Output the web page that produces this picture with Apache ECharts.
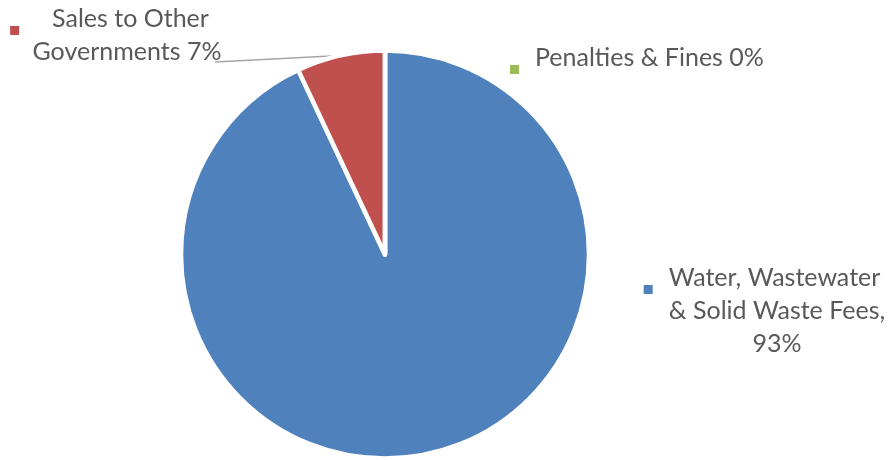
<!DOCTYPE html>
<html>
<head>
<meta charset="utf-8">
<script src="https://cdn.jsdelivr.net/npm/echarts@6/dist/echarts.min.js"></script>
<style>
  html, body { margin: 0; padding: 0; background: #fff; }
  #chart { width: 889px; height: 460px; }
</style>
</head>
<body>
<div id="chart"></div>
<script>
// Revenue sources, share of total (%)
const categories = ['Water, Wastewater & Solid Waste Fees', 'Sales to Other Governments', 'Penalties & Fines'];
const shares = [93, 7, 0];
const colors = ['#4F81BD', '#C0504D', '#9BBB59'];

// Label templates: {m|} is the colour swatch, {v} the share
const labelTemplates = [
  '{m|}{g|}Water, Wastewater{t|}\n& Solid Waste Fees,\n{v}%',
  '{m|}{G|}Sales to Other{T|}\nGovernments {v}%',
  '{m|}{g|}Penalties & Fines {v}%'
];

// Where each label block sits: [x, y, align]
const labelPlacement = [
  [777, 261, 'center'],
  [127, 2, 'center'],
  [510, 41, 'left']
];

const chart = echarts.init(document.getElementById('chart'), null, { renderer: 'canvas' });

const textStyle = {
  fontFamily: 'Lato, "Open Sans", sans-serif',
  fontSize: 25,
  lineHeight: 33,
  color: '#595959'
};

const data = categories.map((name, i) => ({
  name: name,
  value: shares[i],
  itemStyle: { color: colors[i] },
  label: {
    formatter: labelTemplates[i].replace('{v}', shares[i]),
    rich: {
      m: { width: 9, height: 9, backgroundColor: colors[i], verticalAlign: 'bottom' },
      g: { width: 16 },
      G: { width: 33 },
      t: { width: 30 },
      T: { width: 35 }
    }
  },
  labelLine: { show: i === 1 }
}));

chart.setOption({
  backgroundColor: '#ffffff',
  animation: false,
  series: [{
    type: 'pie',
    center: [385, 254.5],
    radius: [0, 204],
    startAngle: 90,
    clockwise: true,
    avoidLabelOverlap: false,
    itemStyle: { borderColor: '#ffffff', borderWidth: 4.5 },
    label: Object.assign({ show: true, position: 'outside', align: 'center' }, textStyle),
    labelLine: { show: true, length: 0, length2: 0, lineStyle: { color: '#A6A6A6', width: 1.5 } },
    labelLayout: function (params) {
      const p = labelPlacement[params.dataIndex];
      const out = { x: p[0], y: p[1], align: p[2], verticalAlign: 'top' };
      if (params.dataIndex === 1 && params.labelLinePoints) {
        // leader from the slice's outer arc to the end of the second line
        const anchor = params.labelLinePoints[0];
        const w = params.labelRect.width;
        const h = params.labelRect.height;
        const end = [p[0] + w / 2 - 29, p[1] + h - 6];
        out.labelLinePoints = [anchor, [(anchor[0] + end[0]) / 2, (anchor[1] + end[1]) / 2], end];
      }
      return out;
    },
    data: data
  }]
});
</script>
</body>
</html>
